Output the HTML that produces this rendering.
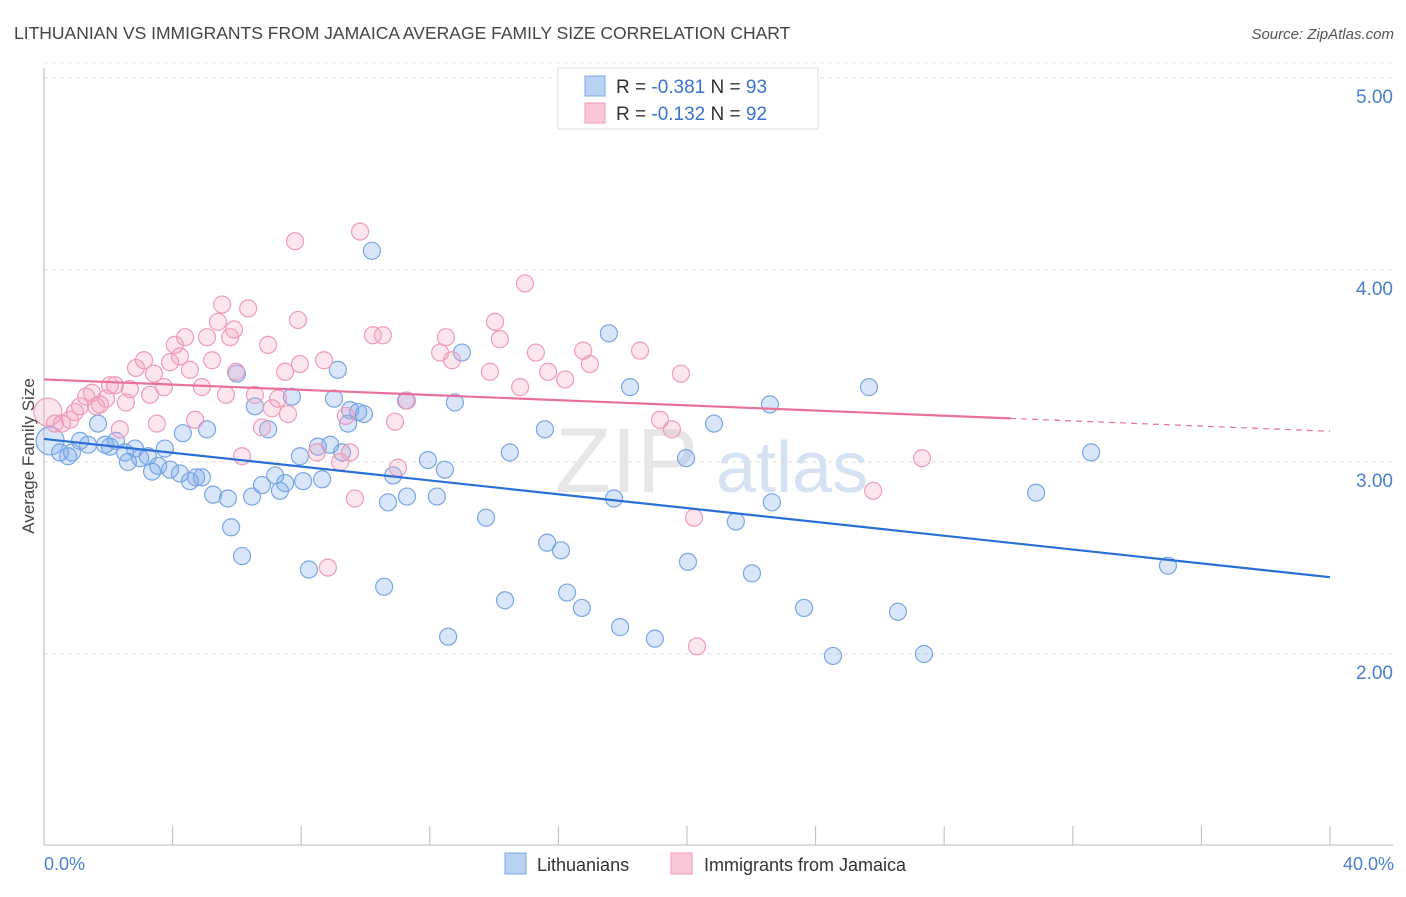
<!DOCTYPE html>
<html><head><meta charset="utf-8"><style>
body{margin:0;background:#fff;font-family:"Liberation Sans",sans-serif;}
svg text{font-family:"Liberation Sans",sans-serif;}
</style></head><body>
<svg id="chart" width="1406" height="892" viewBox="0 0 1406 892" xmlns="http://www.w3.org/2000/svg">
<text x="14" y="39" font-size="17.5" fill="#444">LITHUANIAN VS IMMIGRANTS FROM JAMAICA AVERAGE FAMILY SIZE CORRELATION CHART</text>
<text x="1394" y="39" font-size="15" fill="#555" text-anchor="end" font-style="italic">Source: ZipAtlas.com</text>
<text x="555" y="492" font-size="92" fill="#e6e6e6" font-family="Liberation Serif">ZIP</text>
<text x="716" y="492" font-size="72" fill="#d4e2f4">atlas</text>
<g id="grid"></g>
<g id="axes"></g>
<g id="points"></g>
<g id="trends"></g>
<text transform="translate(34,456) rotate(-90)" font-size="17" fill="#444" text-anchor="middle">Average Family Size</text>
<text x="44" y="870" font-size="18" fill="#4a7fd6">0.0%</text>
<text x="1394" y="870" font-size="18" fill="#4a7fd6" text-anchor="end">40.0%</text>
<g>
<rect x="558" y="68" width="260" height="61" fill="#fff" stroke="#ddd"/>
<rect x="585" y="76" width="20" height="20" fill="#b8d2f4" stroke="#7aa7e6"/>
<rect x="585" y="103" width="20" height="20" fill="#f9c8d8" stroke="#ee9ab8"/>
<text x="616" y="93" font-size="19" fill="#333">R = <tspan fill="#3a72d0">-0.381</tspan>   N = <tspan fill="#3a72d0">93</tspan></text>
<text x="616" y="120" font-size="19" fill="#333">R = <tspan fill="#3a72d0">-0.132</tspan>   N = <tspan fill="#3a72d0">92</tspan></text>
</g>
<g>
<rect x="505" y="853" width="21" height="21" fill="#b8d2f4" stroke="#7aa7e6"/>
<text x="537" y="871" font-size="18" fill="#333">Lithuanians</text>
<rect x="671" y="853" width="21" height="21" fill="#f9c8d8" stroke="#ee9ab8"/>
<text x="704" y="871" font-size="18" fill="#333">Immigrants from Jamaica</text>
</g>
</svg>
<script>
const yTicks=[2,3,4,5];
const yTickLabels=["2.00","3.00","4.00","5.00"];
const xTicks=[0,4,8,12,16,20,24,28,32,36,40];
const blueX=[0.19,0.5,0.75,0.87,1.12,1.37,1.68,1.9,2.05,2.24,2.52,2.61,2.83,2.99,3.23,3.36,3.55,3.76,3.92,4.23,4.32,4.54,4.73,4.91,5.07,5.26,5.72,5.82,6.0,6.16,6.47,6.56,6.78,6.97,7.19,7.34,7.5,7.71,7.96,8.06,8.24,8.52,8.65,8.9,9.02,9.14,9.27,9.46,9.52,9.77,9.95,10.2,10.58,10.7,10.86,11.26,11.29,11.94,12.22,12.47,12.57,12.78,13.0,13.75,14.34,14.49,15.58,15.65,16.08,16.27,16.73,17.57,17.73,17.92,18.23,19.0,19.97,20.03,20.84,21.52,22.02,22.58,22.64,23.64,24.54,25.66,26.56,27.37,30.86,32.57,34.96];
const blueY=[3.11,3.05,3.03,3.05,3.11,3.09,3.2,3.09,3.08,3.11,3.05,3.0,3.07,3.02,3.03,2.95,2.98,3.07,2.96,2.94,3.15,2.9,2.92,2.92,3.17,2.83,2.81,2.66,3.46,2.51,2.82,3.29,2.88,3.17,2.93,2.85,2.89,3.34,3.03,2.9,2.44,3.08,2.91,3.09,3.33,3.48,3.05,3.2,3.27,3.26,3.25,4.1,2.35,2.79,2.93,3.32,2.82,3.01,2.82,2.96,2.09,3.31,3.57,2.71,2.28,3.05,3.17,2.58,2.54,2.32,2.24,3.67,2.81,2.14,3.39,2.08,3.02,2.48,3.2,2.69,2.42,3.3,2.79,2.24,1.99,3.39,2.22,2.0,2.84,3.05,2.46];
const pinkX=[0.12,0.34,0.56,0.81,0.96,1.12,1.31,1.49,1.62,1.74,1.93,2.05,2.21,2.36,2.55,2.67,2.86,3.11,3.3,3.42,3.51,3.73,3.92,4.07,4.23,4.39,4.54,4.7,4.91,5.07,5.23,5.41,5.54,5.66,5.79,5.91,5.97,6.16,6.35,6.56,6.78,6.97,7.09,7.28,7.5,7.59,7.81,7.9,7.96,8.49,8.71,8.83,9.21,9.39,9.52,9.83,9.67,10.23,10.54,10.92,11.01,11.29,12.32,12.5,12.69,13.87,14.03,14.18,14.81,14.96,15.3,15.68,16.21,16.77,16.98,18.54,19.16,19.53,19.81,20.22,20.31,25.79,27.31];
const pinkY=[3.26,3.2,3.2,3.22,3.26,3.29,3.34,3.36,3.29,3.3,3.33,3.4,3.4,3.17,3.31,3.38,3.49,3.53,3.35,3.46,3.2,3.39,3.52,3.61,3.55,3.65,3.48,3.22,3.39,3.65,3.53,3.73,3.82,3.35,3.65,3.69,3.47,3.03,3.8,3.35,3.18,3.61,3.28,3.33,3.47,3.25,4.15,3.74,3.51,3.05,3.53,2.45,3.0,3.24,3.05,4.2,2.81,3.66,3.66,3.21,2.97,3.32,3.57,3.65,3.53,3.47,3.73,3.64,3.39,3.93,3.57,3.47,3.43,3.58,3.51,3.58,3.22,3.17,3.46,2.71,2.04,2.85,3.02];
const blueTrend=[3.12,2.40];
const pinkTrend=[3.43,3.16];
const pinkSolidEnd=30.05;

const NS="http://www.w3.org/2000/svg";
const X0=44,X1=1330,YTOP=78,PX=192;
function sx(v){return X0+(X1-X0)*v/40;}
function sy(v){return YTOP+(5-v)*PX;}
function mk(t,a,p){const e=document.createElementNS(NS,t);for(const k in a)e.setAttribute(k,a[k]);p.appendChild(e);return e;}
const grid=document.getElementById('grid'),axes=document.getElementById('axes'),pts=document.getElementById('points'),tr=document.getElementById('trends');
yTicks.forEach((v,i)=>{
 const l=mk('line',{x1:44,x2:1393,y1:sy(v),y2:sy(v),stroke:'#ddd','stroke-dasharray':'4,4'},grid);
 
 
 const t=mk('text',{x:1393,y:sy(v)+25,'font-size':19,fill:'#4a7fd6','text-anchor':'end'},grid);
 t.textContent=yTickLabels[i];
 
 
});
const tl=mk('line',{x1:44,x2:1393,y1:sy(5.08),y2:sy(5.08),stroke:'#e4e4e4','stroke-dasharray':'4,4'},grid);


const ya=mk('line',{x1:44,x2:44,y1:68,y2:845,stroke:'#bbb'},axes);


const xa=mk('line',{x1:44,x2:1393,y1:845,y2:845,stroke:'#bbb'},axes);


xTicks.forEach(v=>{
 const l=mk('line',{x1:sx(v),x2:sx(v),y1:826,y2:845,stroke:'#bbb'},axes);
 
 
});
function drawSeries(xs,ys,fill,stroke,name){
 xs.forEach((x,i)=>{
  const c=mk('circle',{cx:sx(x),cy:sy(ys[i]),r:i===0?14:8.5,fill:fill,stroke:stroke,'stroke-width':1.2},pts);
  
  
 });
}
drawSeries(blueX,blueY,'rgba(120,165,235,0.28)','#78a6e6','lithuanian-point');
drawSeries(pinkX,pinkY,'rgba(245,160,190,0.28)','#ef9bb9','jamaica-point');
function trendAt(t,x){return t[0]+(t[1]-t[0])*x/40;}
const bl=mk('line',{x1:sx(0),y1:sy(blueTrend[0]),x2:sx(40),y2:sy(blueTrend[1]),stroke:'#2a6fd8','stroke-width':2.2},tr);


const pl=mk('line',{x1:sx(0),y1:sy(pinkTrend[0]),x2:sx(pinkSolidEnd),y2:sy(trendAt(pinkTrend,pinkSolidEnd)),stroke:'#e8709a','stroke-width':2.2},tr);


const pd=mk('line',{x1:sx(pinkSolidEnd),y1:sy(trendAt(pinkTrend,pinkSolidEnd)),x2:sx(40),y2:sy(pinkTrend[1]),stroke:'#e8709a','stroke-width':1.2,'stroke-dasharray':'6,5'},tr);


</script>
</body></html>
